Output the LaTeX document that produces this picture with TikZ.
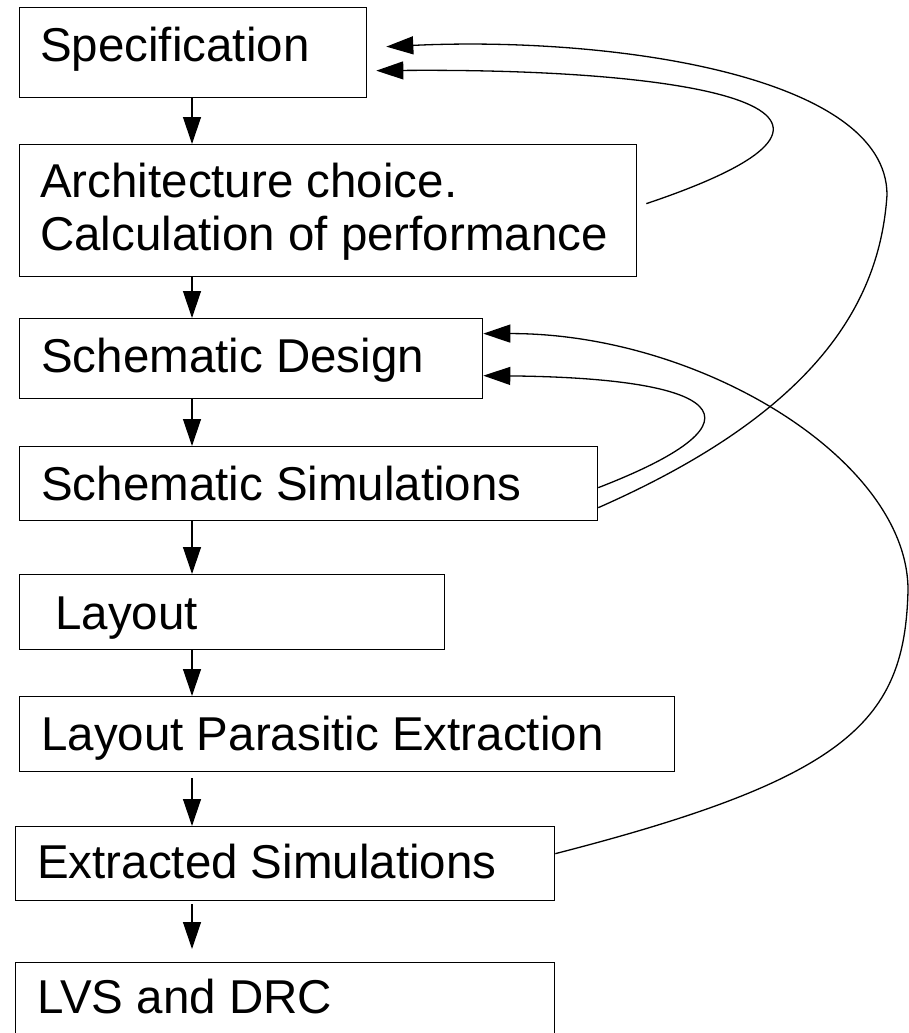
\documentclass[tikz,border=0pt]{standalone}
\usepackage{fontspec}
\setmainfont{Liberation Sans}
\usetikzlibrary{arrows.meta,calc}
\tikzset{
  box/.style={draw, line width=1.3pt, inner sep=0pt, anchor=north west},
  lbl/.style={anchor=base west, inner sep=0pt, font=\fontsize{47.5}{53}\selectfont},
  arr/.style={line width=1.3pt, -{Triangle[length=27pt,width=18pt]}},
  fb/.style={line width=1.3pt, -{Triangle[length=27pt,width=18pt]}}
}
\begin{document}
\begin{tikzpicture}[x=1pt,y=-1pt]
\useasboundingbox (0,0) rectangle (909,1033);
% boxes
\node[box, minimum width=347pt, minimum height=90pt] (spec) at (19,7) {};
\node[box, minimum width=617pt, minimum height=132pt] (arch) at (19,144) {};
\node[box, minimum width=463pt, minimum height=80pt] (sd) at (19,318) {};
\node[box, minimum width=578pt, minimum height=74pt] (ss) at (19,446) {};
\node[box, minimum width=425pt, minimum height=75pt] (layout) at (19,574) {};
\node[box, minimum width=655pt, minimum height=75pt] (lpe) at (19,696) {};
\node[box, minimum width=539pt, minimum height=74pt] (ext) at (15,826) {};
\node[box, minimum width=539pt, minimum height=84pt] (lvs) at (15,962) {};
% texts
\node[lbl] (specT) at (40,62) {Specification};
\node[lbl] (archT1) at (40,197) {Architecture choice.};
\node[lbl] (archT2) at (40,250) {Calculation of performance};
\node[lbl] (sdT) at (41,372) {Schematic Design};
\node[lbl] (ssT) at (41,500) {Schematic Simulations};
\node[lbl] (layoutT) at (55,629) {Layout};
\node[lbl] (lpeT) at (41,750) {Layout Parasitic Extraction};
\node[lbl] (extT) at (37,878) {Extracted Simulations};
\node[lbl] (lvsT) at (37,1013) {LVS and DRC};
% down arrows
\coordinate (ax) at (192,0);
\draw[arr] (spec.south -| ax) -- (arch.north -| ax);
\draw[arr] (arch.south -| ax) -- (sd.north -| ax);
\draw[arr] (sd.south -| ax) -- (ss.north -| ax);
\draw[arr] (ss.south -| ax) -- (layout.north -| ax);
\draw[arr] (layout.south -| ax) -- (lpe.north -| ax);
\draw[arr, shorten <=6pt] (lpe.south -| ax) -- (ext.north -| ax);
\draw[arr, shorten <=3pt, shorten >=13pt] (ext.south -| ax) -- (lvs.north -| ax);
% feedback curves
\draw[fb] ($(arch.east)+(9,-7)$) .. controls (925,110) and (700,68) .. ($(spec.east)+(9,18)$);
\draw[fb] ($(ss.east)+(0,24)$) .. controls (820,410) and (880,300) .. (887,195)
  .. controls (887,75) and (610,36) .. ($(spec.east)+(19,-6)$);
\draw[fb] ($(ss.east)+(0,4)$) .. controls (778,418) and (718,378) .. ($(sd.east)+(0,17)$);
\draw[fb] ($(ext.east)+(0,-10)$) .. controls (850,778) and (905,720) .. (908,590)
  .. controls (908,460) and (700,333) .. ($(sd.east)+(0,-25)$);
\end{tikzpicture}
\end{document}
